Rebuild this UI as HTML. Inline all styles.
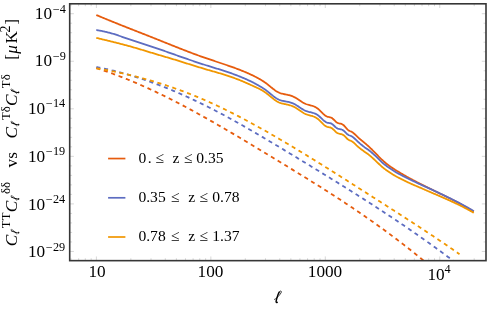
<!DOCTYPE html>
<html><head><meta charset="utf-8"><title>plot</title>
<style>
html,body{margin:0;padding:0;background:#fff;}
body{width:491px;height:309px;overflow:hidden;font-family:"Liberation Serif",serif;}
svg{display:block;will-change:transform;}
text{font-family:"Liberation Serif",serif;fill:#000;}
</style></head><body>
<svg width="491" height="309" viewBox="0 0 491 309">
<rect width="491" height="309" fill="#fff"/>
<defs><g id="ell" fill="none" stroke="#000" stroke-linecap="round" stroke-linejoin="round"><path d="M0.3,-3.6 C1.8,-4.3 3.6,-5.8 5.0,-7.6 C6.4,-9.4 7.5,-10.8 7.1,-11.6 C6.7,-12.3 5.8,-12.0 5.0,-10.9" stroke-width="0.75"/><path d="M5.0,-10.9 C4.1,-9.5 3.2,-6.8 2.6,-4.6 C2.1,-2.9 1.7,-1.6 1.9,-0.9 C2.1,-0.4 2.5,-0.4 3.0,-0.7" stroke-width="1.45"/></g><clipPath id="c"><rect x="69.7" y="3.8" width="416.3" height="256.84999999999997"/></clipPath></defs>
<g stroke="#b0b0b0" stroke-width="0.5"><line x1="71.01" y1="260.65" x2="71.01" y2="258.25"/><line x1="71.01" y1="3.80" x2="71.01" y2="6.20"/><line x1="78.67" y1="260.65" x2="78.67" y2="258.25"/><line x1="78.67" y1="3.80" x2="78.67" y2="6.20"/><line x1="85.31" y1="260.65" x2="85.31" y2="258.25"/><line x1="85.31" y1="3.80" x2="85.31" y2="6.20"/><line x1="91.16" y1="260.65" x2="91.16" y2="258.25"/><line x1="91.16" y1="3.80" x2="91.16" y2="6.20"/><line x1="96.40" y1="260.65" x2="96.40" y2="256.45"/><line x1="96.40" y1="3.80" x2="96.40" y2="8.00"/><line x1="130.85" y1="260.65" x2="130.85" y2="258.25"/><line x1="130.85" y1="3.80" x2="130.85" y2="6.20"/><line x1="151.01" y1="260.65" x2="151.01" y2="258.25"/><line x1="151.01" y1="3.80" x2="151.01" y2="6.20"/><line x1="165.31" y1="260.65" x2="165.31" y2="258.25"/><line x1="165.31" y1="3.80" x2="165.31" y2="6.20"/><line x1="176.40" y1="260.65" x2="176.40" y2="258.25"/><line x1="176.40" y1="3.80" x2="176.40" y2="6.20"/><line x1="185.46" y1="260.65" x2="185.46" y2="258.25"/><line x1="185.46" y1="3.80" x2="185.46" y2="6.20"/><line x1="193.12" y1="260.65" x2="193.12" y2="258.25"/><line x1="193.12" y1="3.80" x2="193.12" y2="6.20"/><line x1="199.76" y1="260.65" x2="199.76" y2="258.25"/><line x1="199.76" y1="3.80" x2="199.76" y2="6.20"/><line x1="205.61" y1="260.65" x2="205.61" y2="258.25"/><line x1="205.61" y1="3.80" x2="205.61" y2="6.20"/><line x1="210.85" y1="260.65" x2="210.85" y2="256.45"/><line x1="210.85" y1="3.80" x2="210.85" y2="8.00"/><line x1="245.30" y1="260.65" x2="245.30" y2="258.25"/><line x1="245.30" y1="3.80" x2="245.30" y2="6.20"/><line x1="265.46" y1="260.65" x2="265.46" y2="258.25"/><line x1="265.46" y1="3.80" x2="265.46" y2="6.20"/><line x1="279.76" y1="260.65" x2="279.76" y2="258.25"/><line x1="279.76" y1="3.80" x2="279.76" y2="6.20"/><line x1="290.85" y1="260.65" x2="290.85" y2="258.25"/><line x1="290.85" y1="3.80" x2="290.85" y2="6.20"/><line x1="299.91" y1="260.65" x2="299.91" y2="258.25"/><line x1="299.91" y1="3.80" x2="299.91" y2="6.20"/><line x1="307.57" y1="260.65" x2="307.57" y2="258.25"/><line x1="307.57" y1="3.80" x2="307.57" y2="6.20"/><line x1="314.21" y1="260.65" x2="314.21" y2="258.25"/><line x1="314.21" y1="3.80" x2="314.21" y2="6.20"/><line x1="320.06" y1="260.65" x2="320.06" y2="258.25"/><line x1="320.06" y1="3.80" x2="320.06" y2="6.20"/><line x1="325.30" y1="260.65" x2="325.30" y2="256.45"/><line x1="325.30" y1="3.80" x2="325.30" y2="8.00"/><line x1="359.75" y1="260.65" x2="359.75" y2="258.25"/><line x1="359.75" y1="3.80" x2="359.75" y2="6.20"/><line x1="379.91" y1="260.65" x2="379.91" y2="258.25"/><line x1="379.91" y1="3.80" x2="379.91" y2="6.20"/><line x1="394.21" y1="260.65" x2="394.21" y2="258.25"/><line x1="394.21" y1="3.80" x2="394.21" y2="6.20"/><line x1="405.30" y1="260.65" x2="405.30" y2="258.25"/><line x1="405.30" y1="3.80" x2="405.30" y2="6.20"/><line x1="414.36" y1="260.65" x2="414.36" y2="258.25"/><line x1="414.36" y1="3.80" x2="414.36" y2="6.20"/><line x1="422.02" y1="260.65" x2="422.02" y2="258.25"/><line x1="422.02" y1="3.80" x2="422.02" y2="6.20"/><line x1="428.66" y1="260.65" x2="428.66" y2="258.25"/><line x1="428.66" y1="3.80" x2="428.66" y2="6.20"/><line x1="434.51" y1="260.65" x2="434.51" y2="258.25"/><line x1="434.51" y1="3.80" x2="434.51" y2="6.20"/><line x1="439.75" y1="260.65" x2="439.75" y2="256.45"/><line x1="439.75" y1="3.80" x2="439.75" y2="8.00"/><line x1="474.20" y1="260.65" x2="474.20" y2="258.25"/><line x1="474.20" y1="3.80" x2="474.20" y2="6.20"/><line x1="69.70" y1="13.70" x2="73.90" y2="13.70"/><line x1="486.00" y1="13.70" x2="481.80" y2="13.70"/><line x1="69.70" y1="23.21" x2="72.10" y2="23.21"/><line x1="486.00" y1="23.21" x2="483.60" y2="23.21"/><line x1="69.70" y1="32.72" x2="72.10" y2="32.72"/><line x1="486.00" y1="32.72" x2="483.60" y2="32.72"/><line x1="69.70" y1="42.23" x2="72.10" y2="42.23"/><line x1="486.00" y1="42.23" x2="483.60" y2="42.23"/><line x1="69.70" y1="51.74" x2="72.10" y2="51.74"/><line x1="486.00" y1="51.74" x2="483.60" y2="51.74"/><line x1="69.70" y1="61.25" x2="73.90" y2="61.25"/><line x1="486.00" y1="61.25" x2="481.80" y2="61.25"/><line x1="69.70" y1="70.76" x2="72.10" y2="70.76"/><line x1="486.00" y1="70.76" x2="483.60" y2="70.76"/><line x1="69.70" y1="80.27" x2="72.10" y2="80.27"/><line x1="486.00" y1="80.27" x2="483.60" y2="80.27"/><line x1="69.70" y1="89.78" x2="72.10" y2="89.78"/><line x1="486.00" y1="89.78" x2="483.60" y2="89.78"/><line x1="69.70" y1="99.29" x2="72.10" y2="99.29"/><line x1="486.00" y1="99.29" x2="483.60" y2="99.29"/><line x1="69.70" y1="108.80" x2="73.90" y2="108.80"/><line x1="486.00" y1="108.80" x2="481.80" y2="108.80"/><line x1="69.70" y1="118.31" x2="72.10" y2="118.31"/><line x1="486.00" y1="118.31" x2="483.60" y2="118.31"/><line x1="69.70" y1="127.82" x2="72.10" y2="127.82"/><line x1="486.00" y1="127.82" x2="483.60" y2="127.82"/><line x1="69.70" y1="137.33" x2="72.10" y2="137.33"/><line x1="486.00" y1="137.33" x2="483.60" y2="137.33"/><line x1="69.70" y1="146.84" x2="72.10" y2="146.84"/><line x1="486.00" y1="146.84" x2="483.60" y2="146.84"/><line x1="69.70" y1="156.35" x2="73.90" y2="156.35"/><line x1="486.00" y1="156.35" x2="481.80" y2="156.35"/><line x1="69.70" y1="165.86" x2="72.10" y2="165.86"/><line x1="486.00" y1="165.86" x2="483.60" y2="165.86"/><line x1="69.70" y1="175.37" x2="72.10" y2="175.37"/><line x1="486.00" y1="175.37" x2="483.60" y2="175.37"/><line x1="69.70" y1="184.88" x2="72.10" y2="184.88"/><line x1="486.00" y1="184.88" x2="483.60" y2="184.88"/><line x1="69.70" y1="194.39" x2="72.10" y2="194.39"/><line x1="486.00" y1="194.39" x2="483.60" y2="194.39"/><line x1="69.70" y1="203.90" x2="73.90" y2="203.90"/><line x1="486.00" y1="203.90" x2="481.80" y2="203.90"/><line x1="69.70" y1="213.41" x2="72.10" y2="213.41"/><line x1="486.00" y1="213.41" x2="483.60" y2="213.41"/><line x1="69.70" y1="222.92" x2="72.10" y2="222.92"/><line x1="486.00" y1="222.92" x2="483.60" y2="222.92"/><line x1="69.70" y1="232.43" x2="72.10" y2="232.43"/><line x1="486.00" y1="232.43" x2="483.60" y2="232.43"/><line x1="69.70" y1="241.94" x2="72.10" y2="241.94"/><line x1="486.00" y1="241.94" x2="483.60" y2="241.94"/><line x1="69.70" y1="251.45" x2="73.90" y2="251.45"/><line x1="486.00" y1="251.45" x2="481.80" y2="251.45"/></g>
<g clip-path="url(#c)">
<path d="M96.30,14.98 L97.06,15.31 L97.81,15.63 L98.57,15.95 L99.33,16.26 L100.08,16.58 L100.84,16.90 L101.60,17.22 L102.35,17.53 L103.11,17.85 L103.87,18.16 L104.62,18.47 L105.38,18.78 L106.13,19.10 L106.89,19.41 L107.65,19.72 L108.40,20.03 L109.16,20.34 L109.92,20.64 L110.67,20.95 L111.43,21.26 L112.19,21.57 L112.94,21.87 L113.70,22.18 L114.46,22.48 L115.21,22.79 L115.97,23.09 L116.73,23.39 L117.48,23.70 L118.24,24.00 L119.00,24.30 L119.75,24.60 L120.51,24.90 L121.26,25.21 L122.02,25.51 L122.78,25.81 L123.53,26.11 L124.29,26.41 L125.05,26.70 L125.80,27.00 L126.56,27.30 L127.32,27.60 L128.07,27.90 L128.83,28.20 L129.59,28.50 L130.34,28.79 L131.10,29.09 L131.86,29.39 L132.61,29.69 L133.37,29.98 L134.13,30.28 L134.88,30.58 L135.64,30.87 L136.40,31.17 L137.15,31.47 L137.91,31.76 L138.66,32.06 L139.42,32.36 L140.18,32.65 L140.93,32.95 L141.69,33.25 L142.45,33.55 L143.20,33.84 L143.96,34.14 L144.72,34.44 L145.47,34.74 L146.23,35.03 L146.99,35.33 L147.74,35.63 L148.50,35.93 L149.26,36.23 L150.01,36.53 L150.77,36.82 L151.53,37.12 L152.28,37.42 L153.04,37.72 L153.79,38.02 L154.55,38.33 L155.31,38.63 L156.06,38.93 L156.82,39.23 L157.58,39.53 L158.33,39.83 L159.09,40.14 L159.85,40.44 L160.60,40.74 L161.36,41.05 L162.12,41.35 L162.87,41.65 L163.63,41.96 L164.39,42.26 L165.14,42.56 L165.90,42.87 L166.66,43.17 L167.41,43.48 L168.17,43.78 L168.93,44.08 L169.68,44.39 L170.44,44.69 L171.19,44.99 L171.95,45.29 L172.71,45.60 L173.46,45.90 L174.22,46.20 L174.98,46.50 L175.73,46.80 L176.49,47.10 L177.25,47.40 L178.00,47.70 L178.76,48.00 L179.52,48.30 L180.27,48.60 L181.03,48.89 L181.79,49.19 L182.54,49.49 L183.30,49.78 L184.06,50.08 L184.81,50.37 L185.57,50.66 L186.33,50.95 L187.08,51.25 L187.84,51.54 L188.59,51.83 L189.35,52.11 L190.11,52.40 L190.86,52.69 L191.62,52.97 L192.38,53.26 L193.13,53.54 L193.89,53.83 L194.65,54.11 L195.40,54.39 L196.16,54.67 L196.92,54.94 L197.67,55.22 L198.43,55.50 L199.19,55.77 L199.94,56.04 L200.70,56.31 L201.46,56.58 L202.21,56.85 L202.97,57.12 L203.72,57.39 L204.48,57.65 L205.24,57.91 L205.99,58.17 L206.75,58.43 L207.51,58.69 L208.26,58.95 L209.02,59.21 L209.78,59.46 L210.53,59.71 L211.29,59.97 L212.05,60.22 L212.80,60.47 L213.56,60.72 L214.32,60.97 L215.07,61.23 L215.83,61.48 L216.59,61.73 L217.34,61.98 L218.10,62.23 L218.86,62.48 L219.61,62.73 L220.37,62.98 L221.12,63.23 L221.88,63.48 L222.64,63.74 L223.39,63.99 L224.15,64.24 L224.91,64.50 L225.66,64.76 L226.42,65.01 L227.18,65.27 L227.93,65.53 L228.69,65.79 L229.45,66.06 L230.20,66.32 L230.96,66.59 L231.72,66.86 L232.47,67.13 L233.23,67.40 L233.99,67.67 L234.74,67.95 L235.50,68.23 L236.25,68.51 L237.01,68.79 L237.77,69.08 L238.52,69.37 L239.28,69.66 L240.04,69.96 L240.79,70.25 L241.55,70.56 L242.31,70.86 L243.06,71.17 L243.82,71.48 L244.58,71.79 L245.33,72.11 L246.09,72.44 L246.85,72.76 L247.60,73.10 L248.36,73.43 L249.12,73.77 L249.87,74.12 L250.63,74.47 L251.39,74.82 L252.14,75.18 L252.90,75.55 L253.65,75.92 L254.41,76.30 L255.17,76.68 L255.92,77.07 L256.68,77.46 L257.44,77.86 L258.19,78.27 L258.95,78.69 L259.71,79.11 L260.46,79.53 L261.22,79.97 L261.98,80.42 L262.73,80.89 L263.49,81.38 L264.25,81.88 L265.00,82.40 L265.76,82.95 L266.52,83.53 L267.27,84.12 L268.03,84.72 L268.78,85.34 L269.54,85.96 L270.30,86.58 L271.05,87.21 L271.81,87.82 L272.57,88.43 L273.32,89.02 L274.08,89.59 L274.84,90.15 L275.59,90.67 L276.35,91.16 L277.11,91.62 L277.86,92.04 L278.62,92.42 L279.38,92.75 L280.13,93.05 L280.89,93.31 L281.65,93.53 L282.40,93.74 L283.16,93.92 L283.92,94.09 L284.67,94.25 L285.43,94.40 L286.18,94.54 L286.94,94.69 L287.70,94.85 L288.45,95.02 L289.21,95.20 L289.97,95.41 L290.72,95.64 L291.48,95.90 L292.24,96.19 L292.99,96.51 L293.75,96.86 L294.51,97.24 L295.26,97.65 L296.02,98.07 L296.78,98.52 L297.53,98.99 L298.29,99.48 L299.05,99.98 L299.80,100.49 L300.56,101.00 L301.32,101.50 L302.07,101.99 L302.83,102.46 L303.58,102.90 L304.34,103.31 L305.10,103.67 L305.85,103.98 L306.61,104.26 L307.37,104.50 L308.12,104.73 L308.88,104.93 L309.64,105.13 L310.39,105.32 L311.15,105.52 L311.91,105.74 L312.66,105.97 L313.42,106.23 L314.18,106.52 L314.93,106.86 L315.69,107.24 L316.45,107.68 L317.20,108.18 L317.96,108.76 L318.71,109.40 L319.47,110.10 L320.23,110.84 L320.98,111.60 L321.74,112.37 L322.50,113.13 L323.25,113.86 L324.01,114.55 L324.77,115.18 L325.52,115.73 L326.28,116.19 L327.04,116.54 L327.79,116.78 L328.55,116.95 L329.31,117.10 L330.06,117.27 L330.82,117.50 L331.58,117.86 L332.33,118.36 L333.09,119.00 L333.85,119.73 L334.60,120.49 L335.36,121.23 L336.11,121.90 L336.87,122.45 L337.63,122.85 L338.38,123.13 L339.14,123.35 L339.90,123.53 L340.65,123.72 L341.41,123.95 L342.17,124.27 L342.92,124.70 L343.68,125.27 L344.44,126.00 L345.19,126.85 L345.95,127.76 L346.71,128.64 L347.46,129.44 L348.22,130.12 L348.98,130.64 L349.73,131.00 L350.49,131.27 L351.24,131.57 L352.00,131.97 L352.76,132.49 L353.51,133.09 L354.27,133.77 L355.03,134.48 L355.78,135.22 L356.54,135.96 L357.30,136.67 L358.05,137.37 L358.81,138.05 L359.57,138.71 L360.32,139.36 L361.08,140.00 L361.84,140.64 L362.59,141.26 L363.35,141.89 L364.11,142.51 L364.86,143.14 L365.62,143.77 L366.38,144.41 L367.13,145.06 L367.89,145.72 L368.64,146.39 L369.40,147.08 L370.16,147.79 L370.91,148.52 L371.67,149.26 L372.43,150.02 L373.18,150.79 L373.94,151.56 L374.70,152.35 L375.45,153.13 L376.21,153.92 L376.97,154.71 L377.72,155.49 L378.48,156.27 L379.24,157.04 L379.99,157.81 L380.75,158.56 L381.51,159.29 L382.26,160.01 L383.02,160.71 L383.77,161.39 L384.53,162.05 L385.29,162.70 L386.04,163.32 L386.80,163.92 L387.56,164.51 L388.31,165.09 L389.07,165.65 L389.83,166.19 L390.58,166.73 L391.34,167.25 L392.10,167.77 L392.85,168.27 L393.61,168.76 L394.37,169.25 L395.12,169.74 L395.88,170.21 L396.64,170.68 L397.39,171.15 L398.15,171.62 L398.91,172.08 L399.66,172.54 L400.42,172.99 L401.17,173.44 L401.93,173.89 L402.69,174.33 L403.44,174.77 L404.20,175.21 L404.96,175.64 L405.71,176.07 L406.47,176.50 L407.23,176.92 L407.98,177.34 L408.74,177.76 L409.50,178.18 L410.25,178.59 L411.01,179.00 L411.77,179.41 L412.52,179.81 L413.28,180.22 L414.04,180.62 L414.79,181.02 L415.55,181.41 L416.31,181.81 L417.06,182.20 L417.82,182.59 L418.57,182.98 L419.33,183.37 L420.09,183.76 L420.84,184.14 L421.60,184.52 L422.36,184.90 L423.11,185.28 L423.87,185.66 L424.63,186.04 L425.38,186.42 L426.14,186.79 L426.90,187.16 L427.65,187.54 L428.41,187.91 L429.17,188.28 L429.92,188.65 L430.68,189.02 L431.44,189.39 L432.19,189.76 L432.95,190.13 L433.70,190.50 L434.46,190.87 L435.22,191.24 L435.97,191.61 L436.73,191.97 L437.49,192.34 L438.24,192.71 L439.00,193.08 L439.76,193.45 L440.51,193.82 L441.27,194.19 L442.03,194.56 L442.78,194.93 L443.54,195.30 L444.30,195.67 L445.05,196.05 L445.81,196.42 L446.57,196.80 L447.32,197.17 L448.08,197.55 L448.84,197.93 L449.59,198.31 L450.35,198.69 L451.10,199.07 L451.86,199.46 L452.62,199.84 L453.37,200.23 L454.13,200.62 L454.89,201.01 L455.64,201.40 L456.40,201.80 L457.16,202.20 L457.91,202.60 L458.67,203.00 L459.43,203.40 L460.18,203.81 L460.94,204.22 L461.70,204.63 L462.45,205.04 L463.21,205.46 L463.97,205.88 L464.72,206.30 L465.48,206.72 L466.23,207.15 L466.99,207.58 L467.75,208.01 L468.50,208.45 L469.26,208.89 L470.02,209.34 L470.77,209.78 L471.53,210.23 L472.29,210.69 L473.04,211.15 L473.80,211.61" fill="none" stroke="#E65C0E" stroke-width="1.8" stroke-linejoin="round"/>
<path d="M96.30,29.98 L97.06,30.12 L97.81,30.26 L98.57,30.40 L99.33,30.54 L100.08,30.69 L100.84,30.83 L101.60,30.98 L102.35,31.14 L103.11,31.30 L103.87,31.46 L104.62,31.62 L105.38,31.79 L106.13,31.96 L106.89,32.14 L107.65,32.32 L108.40,32.51 L109.16,32.70 L109.92,32.90 L110.67,33.11 L111.43,33.31 L112.19,33.53 L112.94,33.75 L113.70,33.98 L114.46,34.22 L115.21,34.46 L115.97,34.71 L116.73,34.96 L117.48,35.21 L118.24,35.47 L119.00,35.73 L119.75,35.99 L120.51,36.25 L121.26,36.52 L122.02,36.79 L122.78,37.05 L123.53,37.32 L124.29,37.58 L125.05,37.85 L125.80,38.12 L126.56,38.38 L127.32,38.64 L128.07,38.90 L128.83,39.16 L129.59,39.42 L130.34,39.67 L131.10,39.92 L131.86,40.17 L132.61,40.42 L133.37,40.67 L134.13,40.92 L134.88,41.16 L135.64,41.41 L136.40,41.65 L137.15,41.90 L137.91,42.14 L138.66,42.38 L139.42,42.62 L140.18,42.87 L140.93,43.11 L141.69,43.35 L142.45,43.59 L143.20,43.83 L143.96,44.08 L144.72,44.32 L145.47,44.56 L146.23,44.80 L146.99,45.05 L147.74,45.29 L148.50,45.54 L149.26,45.79 L150.01,46.03 L150.77,46.28 L151.53,46.53 L152.28,46.79 L153.04,47.04 L153.79,47.29 L154.55,47.55 L155.31,47.81 L156.06,48.07 L156.82,48.33 L157.58,48.59 L158.33,48.85 L159.09,49.11 L159.85,49.38 L160.60,49.64 L161.36,49.90 L162.12,50.17 L162.87,50.43 L163.63,50.70 L164.39,50.97 L165.14,51.23 L165.90,51.50 L166.66,51.77 L167.41,52.03 L168.17,52.30 L168.93,52.57 L169.68,52.84 L170.44,53.10 L171.19,53.37 L171.95,53.64 L172.71,53.91 L173.46,54.18 L174.22,54.44 L174.98,54.71 L175.73,54.98 L176.49,55.25 L177.25,55.52 L178.00,55.78 L178.76,56.05 L179.52,56.32 L180.27,56.58 L181.03,56.85 L181.79,57.12 L182.54,57.38 L183.30,57.65 L184.06,57.91 L184.81,58.17 L185.57,58.43 L186.33,58.70 L187.08,58.96 L187.84,59.22 L188.59,59.48 L189.35,59.74 L190.11,59.99 L190.86,60.25 L191.62,60.51 L192.38,60.77 L193.13,61.02 L193.89,61.28 L194.65,61.53 L195.40,61.78 L196.16,62.04 L196.92,62.29 L197.67,62.54 L198.43,62.79 L199.19,63.04 L199.94,63.29 L200.70,63.54 L201.46,63.78 L202.21,64.03 L202.97,64.27 L203.72,64.52 L204.48,64.76 L205.24,65.01 L205.99,65.25 L206.75,65.49 L207.51,65.73 L208.26,65.96 L209.02,66.20 L209.78,66.43 L210.53,66.67 L211.29,66.90 L212.05,67.13 L212.80,67.36 L213.56,67.59 L214.32,67.82 L215.07,68.06 L215.83,68.29 L216.59,68.52 L217.34,68.75 L218.10,68.98 L218.86,69.22 L219.61,69.45 L220.37,69.69 L221.12,69.92 L221.88,70.16 L222.64,70.40 L223.39,70.64 L224.15,70.89 L224.91,71.13 L225.66,71.38 L226.42,71.63 L227.18,71.88 L227.93,72.14 L228.69,72.40 L229.45,72.66 L230.20,72.92 L230.96,73.19 L231.72,73.46 L232.47,73.73 L233.23,74.01 L233.99,74.28 L234.74,74.57 L235.50,74.85 L236.25,75.14 L237.01,75.43 L237.77,75.72 L238.52,76.02 L239.28,76.32 L240.04,76.62 L240.79,76.93 L241.55,77.24 L242.31,77.55 L243.06,77.87 L243.82,78.19 L244.58,78.52 L245.33,78.85 L246.09,79.18 L246.85,79.52 L247.60,79.86 L248.36,80.21 L249.12,80.56 L249.87,80.92 L250.63,81.28 L251.39,81.65 L252.14,82.03 L252.90,82.42 L253.65,82.81 L254.41,83.22 L255.17,83.62 L255.92,84.04 L256.68,84.46 L257.44,84.88 L258.19,85.31 L258.95,85.75 L259.71,86.18 L260.46,86.62 L261.22,87.07 L261.98,87.52 L262.73,87.99 L263.49,88.48 L264.25,88.98 L265.00,89.50 L265.76,90.05 L266.52,90.63 L267.27,91.22 L268.03,91.82 L268.78,92.44 L269.54,93.06 L270.30,93.68 L271.05,94.31 L271.81,94.92 L272.57,95.53 L273.32,96.12 L274.08,96.69 L274.84,97.25 L275.59,97.77 L276.35,98.26 L277.11,98.72 L277.86,99.13 L278.62,99.50 L279.38,99.83 L280.13,100.11 L280.89,100.36 L281.65,100.58 L282.40,100.78 L283.16,100.95 L283.92,101.11 L284.67,101.25 L285.43,101.39 L286.18,101.53 L286.94,101.67 L287.70,101.81 L288.45,101.97 L289.21,102.14 L289.97,102.34 L290.72,102.56 L291.48,102.81 L292.24,103.10 L292.99,103.42 L293.75,103.76 L294.51,104.14 L295.26,104.55 L296.02,104.97 L296.78,105.42 L297.53,105.89 L298.29,106.38 L299.05,106.88 L299.80,107.39 L300.56,107.90 L301.32,108.40 L302.07,108.89 L302.83,109.36 L303.58,109.80 L304.34,110.21 L305.10,110.57 L305.85,110.88 L306.61,111.16 L307.37,111.40 L308.12,111.63 L308.88,111.83 L309.64,112.01 L310.39,112.19 L311.15,112.37 L311.91,112.56 L312.66,112.76 L313.42,112.99 L314.18,113.24 L314.93,113.54 L315.69,113.88 L316.45,114.28 L317.20,114.74 L317.96,115.27 L318.71,115.87 L319.47,116.53 L320.23,117.23 L320.98,117.95 L321.74,118.68 L322.50,119.41 L323.25,120.10 L324.01,120.75 L324.77,121.34 L325.52,121.85 L326.28,122.27 L327.04,122.58 L327.79,122.78 L328.55,122.91 L329.31,123.03 L330.06,123.16 L330.82,123.38 L331.58,123.70 L332.33,124.19 L333.09,124.81 L333.85,125.51 L334.60,126.25 L335.36,126.98 L336.11,127.63 L336.87,128.15 L337.63,128.53 L338.38,128.80 L339.14,128.98 L339.90,129.13 L340.65,129.29 L341.41,129.49 L342.17,129.76 L342.92,130.15 L343.68,130.67 L344.44,131.34 L345.19,132.13 L345.95,132.96 L346.71,133.74 L347.46,134.37 L348.22,134.87 L348.98,135.24 L349.73,135.51 L350.49,135.77 L351.24,136.07 L352.00,136.47 L352.76,136.99 L353.51,137.59 L354.27,138.27 L355.03,138.98 L355.78,139.72 L356.54,140.46 L357.30,141.17 L358.05,141.86 L358.81,142.53 L359.57,143.19 L360.32,143.83 L361.08,144.45 L361.84,145.07 L362.59,145.68 L363.35,146.28 L364.11,146.85 L364.86,147.40 L365.62,147.93 L366.38,148.46 L367.13,148.99 L367.89,149.53 L368.64,150.08 L369.40,150.66 L370.16,151.27 L370.91,151.90 L371.67,152.55 L372.43,153.20 L373.18,153.87 L373.94,154.55 L374.70,155.25 L375.45,155.97 L376.21,156.71 L376.97,157.45 L377.72,158.20 L378.48,158.95 L379.24,159.69 L379.99,160.43 L380.75,161.15 L381.51,161.86 L382.26,162.55 L383.02,163.21 L383.77,163.85 L384.53,164.46 L385.29,165.05 L386.04,165.61 L386.80,166.16 L387.56,166.70 L388.31,167.23 L389.07,167.76 L389.83,168.29 L390.58,168.81 L391.34,169.32 L392.10,169.82 L392.85,170.32 L393.61,170.81 L394.37,171.28 L395.12,171.75 L395.88,172.22 L396.64,172.66 L397.39,173.09 L398.15,173.50 L398.91,173.89 L399.66,174.28 L400.42,174.67 L401.17,175.06 L401.93,175.46 L402.69,175.85 L403.44,176.24 L404.20,176.63 L404.96,177.02 L405.71,177.41 L406.47,177.79 L407.23,178.17 L407.98,178.54 L408.74,178.91 L409.50,179.28 L410.25,179.65 L411.01,180.01 L411.77,180.37 L412.52,180.73 L413.28,181.09 L414.04,181.44 L414.79,181.80 L415.55,182.16 L416.31,182.52 L417.06,182.88 L417.82,183.23 L418.57,183.59 L419.33,183.94 L420.09,184.30 L420.84,184.65 L421.60,184.99 L422.36,185.34 L423.11,185.68 L423.87,186.03 L424.63,186.37 L425.38,186.71 L426.14,187.05 L426.90,187.39 L427.65,187.74 L428.41,188.08 L429.17,188.41 L429.92,188.75 L430.68,189.09 L431.44,189.43 L432.19,189.78 L432.95,190.13 L433.70,190.49 L434.46,190.84 L435.22,191.20 L435.97,191.55 L436.73,191.91 L437.49,192.26 L438.24,192.62 L439.00,192.98 L439.76,193.33 L440.51,193.69 L441.27,194.05 L442.03,194.41 L442.78,194.77 L443.54,195.13 L444.30,195.49 L445.05,195.85 L445.81,196.22 L446.57,196.58 L447.32,196.95 L448.08,197.32 L448.84,197.69 L449.59,198.06 L450.35,198.43 L451.10,198.80 L451.86,199.18 L452.62,199.56 L453.37,199.94 L454.13,200.32 L454.89,200.70 L455.64,201.09 L456.40,201.48 L457.16,201.87 L457.91,202.26 L458.67,202.66 L459.43,203.06 L460.18,203.46 L460.94,203.86 L461.70,204.27 L462.45,204.67 L463.21,205.09 L463.97,205.50 L464.72,205.92 L465.48,206.34 L466.23,206.77 L466.99,207.19 L467.75,207.62 L468.50,208.06 L469.26,208.50 L470.02,208.94 L470.77,209.39 L471.53,209.83 L472.29,210.29 L473.04,210.75 L473.80,211.21" fill="none" stroke="#5D6DC1" stroke-width="1.8" stroke-linejoin="round"/>
<path d="M96.30,37.88 L97.06,38.06 L97.81,38.24 L98.57,38.42 L99.33,38.60 L100.08,38.78 L100.84,38.97 L101.60,39.15 L102.35,39.33 L103.11,39.51 L103.87,39.69 L104.62,39.87 L105.38,40.05 L106.13,40.24 L106.89,40.42 L107.65,40.60 L108.40,40.79 L109.16,40.97 L109.92,41.16 L110.67,41.34 L111.43,41.53 L112.19,41.72 L112.94,41.91 L113.70,42.09 L114.46,42.28 L115.21,42.47 L115.97,42.66 L116.73,42.85 L117.48,43.05 L118.24,43.24 L119.00,43.43 L119.75,43.63 L120.51,43.82 L121.26,44.02 L122.02,44.22 L122.78,44.41 L123.53,44.61 L124.29,44.81 L125.05,45.01 L125.80,45.22 L126.56,45.42 L127.32,45.62 L128.07,45.83 L128.83,46.04 L129.59,46.24 L130.34,46.45 L131.10,46.66 L131.86,46.88 L132.61,47.09 L133.37,47.31 L134.13,47.52 L134.88,47.74 L135.64,47.96 L136.40,48.18 L137.15,48.41 L137.91,48.63 L138.66,48.86 L139.42,49.08 L140.18,49.31 L140.93,49.53 L141.69,49.76 L142.45,49.99 L143.20,50.22 L143.96,50.45 L144.72,50.68 L145.47,50.91 L146.23,51.14 L146.99,51.37 L147.74,51.60 L148.50,51.83 L149.26,52.06 L150.01,52.29 L150.77,52.52 L151.53,52.75 L152.28,52.98 L153.04,53.21 L153.79,53.44 L154.55,53.67 L155.31,53.90 L156.06,54.12 L156.82,54.35 L157.58,54.57 L158.33,54.80 L159.09,55.02 L159.85,55.25 L160.60,55.47 L161.36,55.69 L162.12,55.91 L162.87,56.14 L163.63,56.36 L164.39,56.58 L165.14,56.80 L165.90,57.03 L166.66,57.25 L167.41,57.47 L168.17,57.70 L168.93,57.92 L169.68,58.14 L170.44,58.37 L171.19,58.59 L171.95,58.82 L172.71,59.05 L173.46,59.28 L174.22,59.50 L174.98,59.73 L175.73,59.96 L176.49,60.20 L177.25,60.43 L178.00,60.66 L178.76,60.90 L179.52,61.14 L180.27,61.37 L181.03,61.61 L181.79,61.85 L182.54,62.09 L183.30,62.33 L184.06,62.57 L184.81,62.80 L185.57,63.04 L186.33,63.28 L187.08,63.52 L187.84,63.75 L188.59,63.99 L189.35,64.23 L190.11,64.46 L190.86,64.70 L191.62,64.93 L192.38,65.17 L193.13,65.40 L193.89,65.64 L194.65,65.87 L195.40,66.10 L196.16,66.34 L196.92,66.57 L197.67,66.80 L198.43,67.03 L199.19,67.27 L199.94,67.50 L200.70,67.73 L201.46,67.96 L202.21,68.19 L202.97,68.42 L203.72,68.65 L204.48,68.87 L205.24,69.10 L205.99,69.33 L206.75,69.55 L207.51,69.77 L208.26,69.99 L209.02,70.21 L209.78,70.43 L210.53,70.65 L211.29,70.86 L212.05,71.08 L212.80,71.29 L213.56,71.51 L214.32,71.72 L215.07,71.94 L215.83,72.16 L216.59,72.37 L217.34,72.59 L218.10,72.81 L218.86,73.03 L219.61,73.25 L220.37,73.47 L221.12,73.70 L221.88,73.92 L222.64,74.15 L223.39,74.39 L224.15,74.62 L224.91,74.86 L225.66,75.10 L226.42,75.34 L227.18,75.59 L227.93,75.84 L228.69,76.10 L229.45,76.36 L230.20,76.62 L230.96,76.89 L231.72,77.16 L232.47,77.43 L233.23,77.70 L233.99,77.97 L234.74,78.25 L235.50,78.53 L236.25,78.81 L237.01,79.09 L237.77,79.38 L238.52,79.67 L239.28,79.96 L240.04,80.26 L240.79,80.56 L241.55,80.86 L242.31,81.17 L243.06,81.49 L243.82,81.81 L244.58,82.14 L245.33,82.47 L246.09,82.80 L246.85,83.14 L247.60,83.48 L248.36,83.82 L249.12,84.17 L249.87,84.52 L250.63,84.86 L251.39,85.21 L252.14,85.55 L252.90,85.88 L253.65,86.22 L254.41,86.56 L255.17,86.90 L255.92,87.24 L256.68,87.59 L257.44,87.95 L258.19,88.31 L258.95,88.69 L259.71,89.07 L260.46,89.47 L261.22,89.89 L261.98,90.33 L262.73,90.78 L263.49,91.26 L264.25,91.75 L265.00,92.27 L265.76,92.81 L266.52,93.37 L267.27,93.96 L268.03,94.55 L268.78,95.16 L269.54,95.78 L270.30,96.40 L271.05,97.02 L271.81,97.63 L272.57,98.23 L273.32,98.82 L274.08,99.40 L274.84,99.95 L275.59,100.47 L276.35,100.96 L277.11,101.42 L277.86,101.84 L278.62,102.22 L279.38,102.56 L280.13,102.85 L280.89,103.12 L281.65,103.35 L282.40,103.56 L283.16,103.74 L283.92,103.91 L284.67,104.07 L285.43,104.23 L286.18,104.38 L286.94,104.53 L287.70,104.69 L288.45,104.87 L289.21,105.06 L289.97,105.27 L290.72,105.50 L291.48,105.77 L292.24,106.06 L292.99,106.39 L293.75,106.75 L294.51,107.14 L295.26,107.55 L296.02,107.98 L296.78,108.45 L297.53,108.93 L298.29,109.43 L299.05,109.95 L299.80,110.48 L300.56,111.02 L301.32,111.54 L302.07,112.06 L302.83,112.55 L303.58,113.01 L304.34,113.43 L305.10,113.81 L305.85,114.15 L306.61,114.44 L307.37,114.70 L308.12,114.93 L308.88,115.14 L309.64,115.35 L310.39,115.55 L311.15,115.76 L311.91,115.98 L312.66,116.22 L313.42,116.48 L314.18,116.78 L314.93,117.12 L315.69,117.51 L316.45,117.96 L317.20,118.47 L317.96,119.04 L318.71,119.69 L319.47,120.40 L320.23,121.14 L320.98,121.90 L321.74,122.67 L322.50,123.43 L323.25,124.16 L324.01,124.83 L324.77,125.45 L325.52,125.99 L326.28,126.43 L327.04,126.77 L327.79,127.00 L328.55,127.16 L329.31,127.30 L330.06,127.47 L330.82,127.71 L331.58,128.06 L332.33,128.58 L333.09,129.23 L333.85,129.96 L334.60,130.73 L335.36,131.48 L336.11,132.16 L336.87,132.72 L337.63,133.13 L338.38,133.43 L339.14,133.65 L339.90,133.83 L340.65,134.01 L341.41,134.20 L342.17,134.46 L342.92,134.82 L343.68,135.30 L344.44,135.93 L345.19,136.68 L345.95,137.48 L346.71,138.27 L347.46,138.99 L348.22,139.60 L348.98,140.07 L349.73,140.40 L350.49,140.67 L351.24,140.97 L352.00,141.37 L352.76,141.89 L353.51,142.49 L354.27,143.17 L355.03,143.88 L355.78,144.62 L356.54,145.36 L357.30,146.06 L358.05,146.74 L358.81,147.38 L359.57,148.00 L360.32,148.59 L361.08,149.17 L361.84,149.74 L362.59,150.30 L363.35,150.86 L364.11,151.39 L364.86,151.90 L365.62,152.42 L366.38,152.96 L367.13,153.51 L367.89,154.07 L368.64,154.65 L369.40,155.25 L370.16,155.87 L370.91,156.51 L371.67,157.17 L372.43,157.84 L373.18,158.52 L373.94,159.22 L374.70,159.92 L375.45,160.63 L376.21,161.35 L376.97,162.07 L377.72,162.79 L378.48,163.51 L379.24,164.23 L379.99,164.94 L380.75,165.63 L381.51,166.31 L382.26,166.97 L383.02,167.61 L383.77,168.22 L384.53,168.81 L385.29,169.37 L386.04,169.91 L386.80,170.44 L387.56,170.96 L388.31,171.47 L389.07,171.97 L389.83,172.48 L390.58,172.98 L391.34,173.48 L392.10,173.97 L392.85,174.45 L393.61,174.92 L394.37,175.38 L395.12,175.83 L395.88,176.26 L396.64,176.67 L397.39,177.07 L398.15,177.45 L398.91,177.84 L399.66,178.21 L400.42,178.59 L401.17,178.97 L401.93,179.35 L402.69,179.73 L403.44,180.12 L404.20,180.50 L404.96,180.87 L405.71,181.25 L406.47,181.62 L407.23,181.98 L407.98,182.34 L408.74,182.70 L409.50,183.05 L410.25,183.39 L411.01,183.73 L411.77,184.07 L412.52,184.40 L413.28,184.73 L414.04,185.06 L414.79,185.39 L415.55,185.72 L416.31,186.04 L417.06,186.35 L417.82,186.67 L418.57,186.99 L419.33,187.30 L420.09,187.63 L420.84,187.95 L421.60,188.28 L422.36,188.61 L423.11,188.95 L423.87,189.28 L424.63,189.62 L425.38,189.96 L426.14,190.29 L426.90,190.63 L427.65,190.96 L428.41,191.29 L429.17,191.61 L429.92,191.94 L430.68,192.26 L431.44,192.59 L432.19,192.91 L432.95,193.24 L433.70,193.56 L434.46,193.88 L435.22,194.20 L435.97,194.53 L436.73,194.85 L437.49,195.18 L438.24,195.50 L439.00,195.83 L439.76,196.16 L440.51,196.49 L441.27,196.82 L442.03,197.15 L442.78,197.49 L443.54,197.82 L444.30,198.15 L445.05,198.49 L445.81,198.83 L446.57,199.16 L447.32,199.50 L448.08,199.84 L448.84,200.18 L449.59,200.53 L450.35,200.87 L451.10,201.22 L451.86,201.57 L452.62,201.92 L453.37,202.27 L454.13,202.62 L454.89,202.98 L455.64,203.34 L456.40,203.70 L457.16,204.06 L457.91,204.43 L458.67,204.79 L459.43,205.16 L460.18,205.54 L460.94,205.91 L461.70,206.29 L462.45,206.67 L463.21,207.06 L463.97,207.45 L464.72,207.84 L465.48,208.23 L466.23,208.63 L466.99,209.03 L467.75,209.43 L468.50,209.84 L469.26,210.25 L470.02,210.67 L470.77,211.09 L471.53,211.51 L472.29,211.94 L473.04,212.37 L473.80,212.81" fill="none" stroke="#F19700" stroke-width="1.8" stroke-linejoin="round"/>
<path d="M96.30,68.15 L97.13,68.41 L97.96,68.67 L98.78,68.94 L99.61,69.20 L100.44,69.47 L101.27,69.74 L102.09,70.01 L102.92,70.29 L103.75,70.56 L104.58,70.84 L105.40,71.12 L106.23,71.41 L107.06,71.69 L107.89,71.98 L108.71,72.27 L109.54,72.56 L110.37,72.85 L111.20,73.15 L112.02,73.45 L112.85,73.75 L113.68,74.05 L114.51,74.35 L115.33,74.66 L116.16,74.97 L116.99,75.28 L117.82,75.59 L118.64,75.90 L119.47,76.22 L120.30,76.54 L121.13,76.86 L121.95,77.18 L122.78,77.50 L123.61,77.83 L124.44,78.16 L125.26,78.48 L126.09,78.82 L126.92,79.15 L127.75,79.48 L128.58,79.82 L129.40,80.16 L130.23,80.50 L131.06,80.84 L131.89,81.19 L132.71,81.53 L133.54,81.88 L134.37,82.23 L135.20,82.58 L136.02,82.94 L136.85,83.29 L137.68,83.65 L138.51,84.01 L139.33,84.37 L140.16,84.73 L140.99,85.09 L141.82,85.46 L142.64,85.83 L143.47,86.20 L144.30,86.57 L145.13,86.94 L145.95,87.31 L146.78,87.69 L147.61,88.06 L148.44,88.44 L149.26,88.82 L150.09,89.20 L150.92,89.59 L151.75,89.97 L152.57,90.36 L153.40,90.75 L154.23,91.14 L155.06,91.53 L155.88,91.92 L156.71,92.32 L157.54,92.71 L158.37,93.11 L159.20,93.51 L160.02,93.91 L160.85,94.31 L161.68,94.71 L162.51,95.12 L163.33,95.52 L164.16,95.93 L164.99,96.34 L165.82,96.75 L166.64,97.16 L167.47,97.57 L168.30,97.99 L169.13,98.40 L169.95,98.82 L170.78,99.24 L171.61,99.66 L172.44,100.08 L173.26,100.50 L174.09,100.92 L174.92,101.35 L175.75,101.77 L176.57,102.20 L177.40,102.63 L178.23,103.06 L179.06,103.49 L179.88,103.92 L180.71,104.36 L181.54,104.79 L182.37,105.23 L183.19,105.66 L184.02,106.10 L184.85,106.54 L185.68,106.98 L186.51,107.42 L187.33,107.87 L188.16,108.31 L188.99,108.76 L189.82,109.20 L190.64,109.65 L191.47,110.10 L192.30,110.55 L193.13,111.00 L193.95,111.45 L194.78,111.90 L195.61,112.35 L196.44,112.81 L197.26,113.26 L198.09,113.72 L198.92,114.18 L199.75,114.64 L200.57,115.09 L201.40,115.55 L202.23,116.02 L203.06,116.48 L203.88,116.94 L204.71,117.40 L205.54,117.87 L206.37,118.34 L207.19,118.80 L208.02,119.27 L208.85,119.74 L209.68,120.21 L210.50,120.68 L211.33,121.15 L212.16,121.62 L212.99,122.09 L213.81,122.56 L214.64,123.04 L215.47,123.51 L216.30,123.99 L217.13,124.46 L217.95,124.94 L218.78,125.42 L219.61,125.90 L220.44,126.38 L221.26,126.86 L222.09,127.34 L222.92,127.82 L223.75,128.30 L224.57,128.78 L225.40,129.27 L226.23,129.75 L227.06,130.23 L227.88,130.72 L228.71,131.20 L229.54,131.69 L230.37,132.18 L231.19,132.66 L232.02,133.15 L232.85,133.64 L233.68,134.13 L234.50,134.62 L235.33,135.11 L236.16,135.60 L236.99,136.09 L237.81,136.58 L238.64,137.07 L239.47,137.57 L240.30,138.06 L241.12,138.55 L241.95,139.05 L242.78,139.54 L243.61,140.04 L244.43,140.53 L245.26,141.03 L246.09,141.52 L246.92,142.02 L247.75,142.52 L248.57,143.01 L249.40,143.51 L250.23,144.01 L251.06,144.51 L251.88,145.00 L252.71,145.50 L253.54,146.00 L254.37,146.50 L255.19,147.00 L256.02,147.50 L256.85,148.00 L257.68,148.50 L258.50,149.00 L259.33,149.50 L260.16,150.00 L260.99,150.50 L261.81,151.00 L262.64,151.50 L263.47,152.01 L264.30,152.51 L265.12,153.01 L265.95,153.51 L266.78,154.01 L267.61,154.51 L268.43,155.02 L269.26,155.52 L270.09,156.02 L270.92,156.52 L271.74,157.03 L272.57,157.53 L273.40,158.03 L274.23,158.53 L275.05,159.04 L275.88,159.54 L276.71,160.04 L277.54,160.55 L278.37,161.05 L279.19,161.55 L280.02,162.06 L280.85,162.56 L281.68,163.06 L282.50,163.57 L283.33,164.07 L284.16,164.58 L284.99,165.08 L285.81,165.58 L286.64,166.09 L287.47,166.60 L288.30,167.10 L289.12,167.61 L289.95,168.11 L290.78,168.62 L291.61,169.12 L292.43,169.63 L293.26,170.14 L294.09,170.65 L294.92,171.15 L295.74,171.66 L296.57,172.17 L297.40,172.68 L298.23,173.19 L299.05,173.70 L299.88,174.21 L300.71,174.72 L301.54,175.23 L302.36,175.74 L303.19,176.25 L304.02,176.76 L304.85,177.27 L305.67,177.79 L306.50,178.30 L307.33,178.81 L308.16,179.33 L308.99,179.84 L309.81,180.36 L310.64,180.87 L311.47,181.39 L312.30,181.91 L313.12,182.42 L313.95,182.94 L314.78,183.46 L315.61,183.98 L316.43,184.50 L317.26,185.02 L318.09,185.54 L318.92,186.06 L319.74,186.58 L320.57,187.11 L321.40,187.63 L322.23,188.15 L323.05,188.68 L323.88,189.20 L324.71,189.73 L325.54,190.26 L326.36,190.78 L327.19,191.31 L328.02,191.84 L328.85,192.37 L329.67,192.90 L330.50,193.43 L331.33,193.97 L332.16,194.50 L332.98,195.03 L333.81,195.57 L334.64,196.10 L335.47,196.64 L336.29,197.17 L337.12,197.71 L337.95,198.25 L338.78,198.79 L339.61,199.33 L340.43,199.87 L341.26,200.41 L342.09,200.96 L342.92,201.50 L343.74,202.05 L344.57,202.59 L345.40,203.14 L346.23,203.69 L347.05,204.24 L347.88,204.79 L348.71,205.34 L349.54,205.89 L350.36,206.44 L351.19,206.99 L352.02,207.55 L352.85,208.11 L353.67,208.66 L354.50,209.22 L355.33,209.78 L356.16,210.34 L356.98,210.90 L357.81,211.46 L358.64,212.03 L359.47,212.59 L360.29,213.16 L361.12,213.72 L361.95,214.29 L362.78,214.86 L363.60,215.43 L364.43,216.00 L365.26,216.58 L366.09,217.15 L366.92,217.72 L367.74,218.30 L368.57,218.88 L369.40,219.46 L370.23,220.04 L371.05,220.62 L371.88,221.20 L372.71,221.79 L373.54,222.37 L374.36,222.96 L375.19,223.55 L376.02,224.14 L376.85,224.73 L377.67,225.32 L378.50,225.91 L379.33,226.51 L380.16,227.10 L380.98,227.70 L381.81,228.30 L382.64,228.90 L383.47,229.50 L384.29,230.10 L385.12,230.71 L385.95,231.32 L386.78,231.92 L387.60,232.53 L388.43,233.14 L389.26,233.76 L390.09,234.37 L390.91,234.98 L391.74,235.60 L392.57,236.22 L393.40,236.84 L394.22,237.46 L395.05,238.08 L395.88,238.71 L396.71,239.33 L397.54,239.96 L398.36,240.59 L399.19,241.22 L400.02,241.85 L400.85,242.49 L401.67,243.12 L402.50,243.76 L403.33,244.40 L404.16,245.04 L404.98,245.68 L405.81,246.33 L406.64,246.97 L407.47,247.62 L408.29,248.27 L409.12,248.92 L409.95,249.57 L410.78,250.23 L411.60,250.89 L412.43,251.54 L413.26,252.20 L414.09,252.87 L414.91,253.53 L415.74,254.20 L416.57,254.86 L417.40,255.53 L418.22,256.20 L419.05,256.88 L419.88,257.55 L420.71,258.23 L421.53,258.91 L422.36,259.59 L423.19,260.27 L424.02,260.95 L424.84,261.64 L425.67,262.33 L426.50,263.02" fill="none" stroke="#E65C0E" stroke-width="1.8" stroke-dasharray="4.1 3.75"/>
<path d="M96.30,67.05 L97.21,67.22 L98.11,67.39 L99.02,67.56 L99.93,67.74 L100.83,67.92 L101.74,68.10 L102.65,68.29 L103.55,68.47 L104.46,68.66 L105.37,68.86 L106.27,69.05 L107.18,69.25 L108.08,69.46 L108.99,69.66 L109.90,69.87 L110.80,70.08 L111.71,70.29 L112.62,70.51 L113.52,70.73 L114.43,70.95 L115.34,71.17 L116.24,71.40 L117.15,71.63 L118.06,71.86 L118.96,72.09 L119.87,72.33 L120.78,72.57 L121.68,72.82 L122.59,73.06 L123.50,73.31 L124.40,73.56 L125.31,73.81 L126.22,74.07 L127.12,74.33 L128.03,74.59 L128.93,74.86 L129.84,75.12 L130.75,75.39 L131.65,75.66 L132.56,75.94 L133.47,76.21 L134.37,76.49 L135.28,76.78 L136.19,77.06 L137.09,77.35 L138.00,77.64 L138.91,77.93 L139.81,78.23 L140.72,78.52 L141.63,78.82 L142.53,79.12 L143.44,79.43 L144.35,79.74 L145.25,80.05 L146.16,80.36 L147.06,80.67 L147.97,80.99 L148.88,81.31 L149.78,81.63 L150.69,81.95 L151.60,82.28 L152.50,82.61 L153.41,82.94 L154.32,83.27 L155.22,83.61 L156.13,83.95 L157.04,84.29 L157.94,84.63 L158.85,84.98 L159.76,85.32 L160.66,85.67 L161.57,86.02 L162.48,86.38 L163.38,86.73 L164.29,87.09 L165.20,87.45 L166.10,87.82 L167.01,88.18 L167.91,88.55 L168.82,88.92 L169.73,89.29 L170.63,89.67 L171.54,90.04 L172.45,90.42 L173.35,90.80 L174.26,91.19 L175.17,91.57 L176.07,91.96 L176.98,92.35 L177.89,92.74 L178.79,93.13 L179.70,93.53 L180.61,93.93 L181.51,94.33 L182.42,94.73 L183.33,95.13 L184.23,95.54 L185.14,95.95 L186.05,96.36 L186.95,96.77 L187.86,97.18 L188.76,97.60 L189.67,98.02 L190.58,98.44 L191.48,98.86 L192.39,99.28 L193.30,99.71 L194.20,100.14 L195.11,100.57 L196.02,101.00 L196.92,101.43 L197.83,101.87 L198.74,102.31 L199.64,102.75 L200.55,103.19 L201.46,103.63 L202.36,104.08 L203.27,104.53 L204.18,104.97 L205.08,105.43 L205.99,105.88 L206.89,106.33 L207.80,106.79 L208.71,107.25 L209.61,107.71 L210.52,108.17 L211.43,108.63 L212.33,109.10 L213.24,109.56 L214.15,110.03 L215.05,110.50 L215.96,110.98 L216.87,111.45 L217.77,111.93 L218.68,112.40 L219.59,112.88 L220.49,113.36 L221.40,113.84 L222.31,114.33 L223.21,114.81 L224.12,115.30 L225.03,115.79 L225.93,116.27 L226.84,116.77 L227.74,117.26 L228.65,117.75 L229.56,118.25 L230.46,118.74 L231.37,119.24 L232.28,119.74 L233.18,120.24 L234.09,120.74 L235.00,121.25 L235.90,121.75 L236.81,122.26 L237.72,122.76 L238.62,123.27 L239.53,123.78 L240.44,124.29 L241.34,124.80 L242.25,125.32 L243.16,125.83 L244.06,126.35 L244.97,126.86 L245.88,127.38 L246.78,127.90 L247.69,128.42 L248.59,128.94 L249.50,129.46 L250.41,129.99 L251.31,130.51 L252.22,131.03 L253.13,131.56 L254.03,132.09 L254.94,132.61 L255.85,133.14 L256.75,133.67 L257.66,134.20 L258.57,134.73 L259.47,135.27 L260.38,135.80 L261.29,136.33 L262.19,136.87 L263.10,137.40 L264.01,137.94 L264.91,138.47 L265.82,139.01 L266.73,139.55 L267.63,140.09 L268.54,140.63 L269.44,141.17 L270.35,141.71 L271.26,142.25 L272.16,142.79 L273.07,143.33 L273.98,143.88 L274.88,144.42 L275.79,144.96 L276.70,145.51 L277.60,146.05 L278.51,146.60 L279.42,147.14 L280.32,147.69 L281.23,148.24 L282.14,148.78 L283.04,149.33 L283.95,149.88 L284.86,150.43 L285.76,150.97 L286.67,151.52 L287.57,152.07 L288.48,152.62 L289.39,153.17 L290.29,153.72 L291.20,154.27 L292.11,154.82 L293.01,155.37 L293.92,155.92 L294.83,156.47 L295.73,157.02 L296.64,157.57 L297.55,158.13 L298.45,158.68 L299.36,159.23 L300.27,159.78 L301.17,160.33 L302.08,160.88 L302.99,161.43 L303.89,161.99 L304.80,162.54 L305.71,163.09 L306.61,163.64 L307.52,164.19 L308.42,164.75 L309.33,165.30 L310.24,165.85 L311.14,166.41 L312.05,166.96 L312.96,167.51 L313.86,168.07 L314.77,168.62 L315.68,169.18 L316.58,169.73 L317.49,170.29 L318.40,170.84 L319.30,171.40 L320.21,171.95 L321.12,172.51 L322.02,173.07 L322.93,173.62 L323.84,174.18 L324.74,174.74 L325.65,175.30 L326.56,175.85 L327.46,176.41 L328.37,176.97 L329.27,177.53 L330.18,178.09 L331.09,178.65 L331.99,179.21 L332.90,179.77 L333.81,180.33 L334.71,180.89 L335.62,181.45 L336.53,182.02 L337.43,182.58 L338.34,183.14 L339.25,183.71 L340.15,184.27 L341.06,184.83 L341.97,185.40 L342.87,185.97 L343.78,186.53 L344.69,187.10 L345.59,187.66 L346.50,188.23 L347.41,188.80 L348.31,189.37 L349.22,189.94 L350.12,190.51 L351.03,191.08 L351.94,191.65 L352.84,192.22 L353.75,192.79 L354.66,193.36 L355.56,193.94 L356.47,194.51 L357.38,195.09 L358.28,195.66 L359.19,196.24 L360.10,196.81 L361.00,197.39 L361.91,197.97 L362.82,198.54 L363.72,199.12 L364.63,199.70 L365.54,200.28 L366.44,200.86 L367.35,201.44 L368.25,202.03 L369.16,202.61 L370.07,203.19 L370.97,203.78 L371.88,204.36 L372.79,204.95 L373.69,205.54 L374.60,206.12 L375.51,206.71 L376.41,207.30 L377.32,207.89 L378.23,208.48 L379.13,209.07 L380.04,209.66 L380.95,210.26 L381.85,210.85 L382.76,211.44 L383.67,212.04 L384.57,212.63 L385.48,213.23 L386.39,213.83 L387.29,214.43 L388.20,215.03 L389.10,215.63 L390.01,216.23 L390.92,216.83 L391.82,217.43 L392.73,218.04 L393.64,218.64 L394.54,219.25 L395.45,219.86 L396.36,220.46 L397.26,221.07 L398.17,221.68 L399.08,222.29 L399.98,222.90 L400.89,223.52 L401.80,224.13 L402.70,224.74 L403.61,225.36 L404.52,225.98 L405.42,226.59 L406.33,227.21 L407.24,227.83 L408.14,228.45 L409.05,229.07 L409.95,229.70 L410.86,230.32 L411.77,230.95 L412.67,231.57 L413.58,232.20 L414.49,232.83 L415.39,233.46 L416.30,234.09 L417.21,234.72 L418.11,235.35 L419.02,235.98 L419.93,236.62 L420.83,237.25 L421.74,237.89 L422.65,238.53 L423.55,239.17 L424.46,239.81 L425.37,240.45 L426.27,241.10 L427.18,241.74 L428.08,242.39 L428.99,243.03 L429.90,243.68 L430.80,244.33 L431.71,244.98 L432.62,245.63 L433.52,246.28 L434.43,246.94 L435.34,247.59 L436.24,248.25 L437.15,248.91 L438.06,249.57 L438.96,250.23 L439.87,250.89 L440.78,251.55 L441.68,252.22 L442.59,252.88 L443.50,253.55 L444.40,254.22 L445.31,254.89 L446.22,255.56 L447.12,256.23 L448.03,256.91 L448.93,257.58 L449.84,258.26 L450.75,258.94 L451.65,259.62 L452.56,260.30 L453.47,260.98 L454.37,261.67 L455.28,262.35 L456.19,263.04 L457.09,263.73 L458.00,264.42" fill="none" stroke="#5D6DC1" stroke-width="1.8" stroke-dasharray="4.1 3.75"/>
<path d="M96.30,68.30 L97.21,68.45 L98.12,68.61 L99.03,68.76 L99.94,68.92 L100.85,69.08 L101.76,69.24 L102.67,69.40 L103.58,69.56 L104.49,69.72 L105.40,69.89 L106.31,70.06 L107.22,70.23 L108.13,70.40 L109.04,70.58 L109.95,70.75 L110.86,70.93 L111.77,71.11 L112.68,71.29 L113.60,71.47 L114.51,71.66 L115.42,71.85 L116.33,72.03 L117.24,72.23 L118.15,72.42 L119.06,72.61 L119.97,72.81 L120.88,73.01 L121.79,73.21 L122.70,73.41 L123.61,73.61 L124.52,73.82 L125.43,74.03 L126.34,74.24 L127.25,74.45 L128.16,74.66 L129.07,74.88 L129.98,75.09 L130.89,75.31 L131.80,75.53 L132.71,75.76 L133.62,75.98 L134.53,76.21 L135.44,76.44 L136.35,76.67 L137.26,76.90 L138.17,77.14 L139.08,77.38 L139.99,77.61 L140.90,77.86 L141.81,78.10 L142.72,78.34 L143.63,78.59 L144.54,78.84 L145.45,79.09 L146.37,79.34 L147.28,79.60 L148.19,79.86 L149.10,80.12 L150.01,80.38 L150.92,80.64 L151.83,80.91 L152.74,81.17 L153.65,81.44 L154.56,81.72 L155.47,81.99 L156.38,82.27 L157.29,82.54 L158.20,82.82 L159.11,83.11 L160.02,83.39 L160.93,83.68 L161.84,83.97 L162.75,84.26 L163.66,84.55 L164.57,84.85 L165.48,85.14 L166.39,85.44 L167.30,85.74 L168.21,86.05 L169.12,86.35 L170.03,86.66 L170.94,86.97 L171.85,87.29 L172.76,87.60 L173.67,87.92 L174.58,88.24 L175.49,88.56 L176.40,88.88 L177.31,89.21 L178.22,89.54 L179.14,89.87 L180.05,90.20 L180.96,90.53 L181.87,90.87 L182.78,91.21 L183.69,91.55 L184.60,91.89 L185.51,92.24 L186.42,92.59 L187.33,92.94 L188.24,93.29 L189.15,93.65 L190.06,94.01 L190.97,94.36 L191.88,94.73 L192.79,95.09 L193.70,95.46 L194.61,95.83 L195.52,96.20 L196.43,96.57 L197.34,96.95 L198.25,97.33 L199.16,97.71 L200.07,98.09 L200.98,98.48 L201.89,98.86 L202.80,99.25 L203.71,99.65 L204.62,100.04 L205.53,100.44 L206.44,100.84 L207.35,101.24 L208.26,101.64 L209.17,102.05 L210.08,102.46 L210.99,102.87 L211.91,103.28 L212.82,103.70 L213.73,104.12 L214.64,104.54 L215.55,104.96 L216.46,105.38 L217.37,105.81 L218.28,106.24 L219.19,106.67 L220.10,107.10 L221.01,107.54 L221.92,107.97 L222.83,108.41 L223.74,108.85 L224.65,109.30 L225.56,109.74 L226.47,110.19 L227.38,110.64 L228.29,111.09 L229.20,111.54 L230.11,112.00 L231.02,112.45 L231.93,112.91 L232.84,113.37 L233.75,113.83 L234.66,114.30 L235.57,114.76 L236.48,115.23 L237.39,115.70 L238.30,116.17 L239.21,116.64 L240.12,117.12 L241.03,117.59 L241.94,118.07 L242.85,118.55 L243.76,119.03 L244.67,119.52 L245.59,120.00 L246.50,120.49 L247.41,120.97 L248.32,121.46 L249.23,121.95 L250.14,122.45 L251.05,122.94 L251.96,123.44 L252.87,123.93 L253.78,124.43 L254.69,124.93 L255.60,125.43 L256.51,125.94 L257.42,126.44 L258.33,126.95 L259.24,127.45 L260.15,127.96 L261.06,128.47 L261.97,128.98 L262.88,129.50 L263.79,130.01 L264.70,130.52 L265.61,131.04 L266.52,131.56 L267.43,132.08 L268.34,132.60 L269.25,133.12 L270.16,133.64 L271.07,134.16 L271.98,134.69 L272.89,135.21 L273.80,135.74 L274.71,136.27 L275.62,136.80 L276.53,137.33 L277.44,137.86 L278.36,138.39 L279.27,138.93 L280.18,139.46 L281.09,140.00 L282.00,140.53 L282.91,141.07 L283.82,141.61 L284.73,142.15 L285.64,142.69 L286.55,143.23 L287.46,143.77 L288.37,144.31 L289.28,144.86 L290.19,145.40 L291.10,145.95 L292.01,146.49 L292.92,147.04 L293.83,147.59 L294.74,148.14 L295.65,148.68 L296.56,149.23 L297.47,149.78 L298.38,150.34 L299.29,150.89 L300.20,151.44 L301.11,151.99 L302.02,152.55 L302.93,153.10 L303.84,153.66 L304.75,154.21 L305.66,154.77 L306.57,155.33 L307.48,155.89 L308.39,156.44 L309.30,157.00 L310.21,157.56 L311.13,158.12 L312.04,158.69 L312.95,159.25 L313.86,159.81 L314.77,160.37 L315.68,160.93 L316.59,161.50 L317.50,162.06 L318.41,162.63 L319.32,163.19 L320.23,163.76 L321.14,164.33 L322.05,164.89 L322.96,165.46 L323.87,166.03 L324.78,166.60 L325.69,167.17 L326.60,167.74 L327.51,168.31 L328.42,168.88 L329.33,169.45 L330.24,170.02 L331.15,170.59 L332.06,171.16 L332.97,171.73 L333.88,172.31 L334.79,172.88 L335.70,173.45 L336.61,174.03 L337.52,174.60 L338.43,175.18 L339.34,175.75 L340.25,176.33 L341.16,176.90 L342.07,177.48 L342.98,178.06 L343.89,178.63 L344.81,179.21 L345.72,179.79 L346.63,180.36 L347.54,180.94 L348.45,181.52 L349.36,182.10 L350.27,182.68 L351.18,183.26 L352.09,183.83 L353.00,184.41 L353.91,184.99 L354.82,185.57 L355.73,186.15 L356.64,186.73 L357.55,187.31 L358.46,187.89 L359.37,188.47 L360.28,189.06 L361.19,189.64 L362.10,190.22 L363.01,190.80 L363.92,191.38 L364.83,191.96 L365.74,192.54 L366.65,193.12 L367.56,193.71 L368.47,194.29 L369.38,194.87 L370.29,195.45 L371.20,196.03 L372.11,196.62 L373.02,197.20 L373.93,197.78 L374.84,198.36 L375.75,198.95 L376.66,199.53 L377.58,200.11 L378.49,200.69 L379.40,201.27 L380.31,201.86 L381.22,202.44 L382.13,203.02 L383.04,203.60 L383.95,204.19 L384.86,204.77 L385.77,205.35 L386.68,205.93 L387.59,206.52 L388.50,207.10 L389.41,207.68 L390.32,208.26 L391.23,208.85 L392.14,209.43 L393.05,210.01 L393.96,210.60 L394.87,211.18 L395.78,211.77 L396.69,212.35 L397.60,212.93 L398.51,213.52 L399.42,214.10 L400.33,214.69 L401.24,215.28 L402.15,215.86 L403.06,216.45 L403.97,217.04 L404.88,217.62 L405.79,218.21 L406.70,218.80 L407.61,219.39 L408.52,219.98 L409.43,220.57 L410.35,221.16 L411.26,221.75 L412.17,222.34 L413.08,222.93 L413.99,223.52 L414.90,224.11 L415.81,224.71 L416.72,225.30 L417.63,225.89 L418.54,226.49 L419.45,227.09 L420.36,227.68 L421.27,228.28 L422.18,228.88 L423.09,229.47 L424.00,230.07 L424.91,230.67 L425.82,231.27 L426.73,231.88 L427.64,232.48 L428.55,233.08 L429.46,233.68 L430.37,234.29 L431.28,234.89 L432.19,235.50 L433.10,236.11 L434.01,236.72 L434.92,237.32 L435.83,237.93 L436.74,238.54 L437.65,239.16 L438.56,239.77 L439.47,240.38 L440.38,241.00 L441.29,241.61 L442.20,242.23 L443.12,242.85 L444.03,243.47 L444.94,244.09 L445.85,244.71 L446.76,245.33 L447.67,245.95 L448.58,246.58 L449.49,247.20 L450.40,247.83 L451.31,248.46 L452.22,249.09 L453.13,249.72 L454.04,250.35 L454.95,250.98 L455.86,251.61 L456.77,252.25 L457.68,252.89 L458.59,253.52 L459.50,254.16" fill="none" stroke="#F19700" stroke-width="1.8" stroke-dasharray="4.1 3.75"/>
</g>
<rect x="69.7" y="3.8" width="416.3" height="256.84999999999997" fill="none" stroke="#363636" stroke-width="1.6"/>
<text transform="translate(97.0,276.6) scale(0.98,1)" font-size="17.6" text-anchor="middle">10</text><text transform="translate(210.5,276.6) scale(0.98,1)" font-size="17.6" text-anchor="middle">100</text><text transform="translate(325.0,276.6) scale(0.98,1)" font-size="17.6" text-anchor="middle">1000</text><text transform="translate(427.5,279.9) scale(0.98,1)" font-size="17.6" text-anchor="start">10</text><text transform="translate(444.6,273.3) scale(0.98,1)" font-size="12.5" text-anchor="start">4</text><text transform="translate(34.8,19.0) scale(0.98,1)" font-size="17.6" text-anchor="start">10</text><text transform="translate(52.4,13.8) scale(0.98,1)" font-size="12.5" text-anchor="start">−</text><text transform="translate(59.699999999999996,12.8) scale(0.98,1)" font-size="12.5" text-anchor="start">4</text><text transform="translate(34.8,66.4) scale(0.98,1)" font-size="17.6" text-anchor="start">10</text><text transform="translate(52.4,61.2) scale(0.98,1)" font-size="12.5" text-anchor="start">−</text><text transform="translate(59.699999999999996,60.2) scale(0.98,1)" font-size="12.5" text-anchor="start">9</text><text transform="translate(28.0,113.5) scale(0.98,1)" font-size="17.6" text-anchor="start">10</text><text transform="translate(45.6,108.3) scale(0.98,1)" font-size="12.5" text-anchor="start">−</text><text transform="translate(52.9,107.3) scale(0.98,1)" font-size="12.5" text-anchor="start">14</text><text transform="translate(28.0,161.5) scale(0.98,1)" font-size="17.6" text-anchor="start">10</text><text transform="translate(45.6,156.3) scale(0.98,1)" font-size="12.5" text-anchor="start">−</text><text transform="translate(52.9,155.3) scale(0.98,1)" font-size="12.5" text-anchor="start">19</text><text transform="translate(28.0,209.5) scale(0.98,1)" font-size="17.6" text-anchor="start">10</text><text transform="translate(45.6,204.3) scale(0.98,1)" font-size="12.5" text-anchor="start">−</text><text transform="translate(52.9,203.3) scale(0.98,1)" font-size="12.5" text-anchor="start">24</text><text transform="translate(28.0,256.9) scale(0.98,1)" font-size="17.6" text-anchor="start">10</text><text transform="translate(45.6,251.7) scale(0.98,1)" font-size="12.5" text-anchor="start">−</text><text transform="translate(52.9,250.7) scale(0.98,1)" font-size="12.5" text-anchor="start">29</text><use href="#ell" transform="translate(274.2,303.0)"/>
<g transform="rotate(-90)"><text transform="translate(-246.30,17.00) scale(0.98,1)" font-size="17.6" text-anchor="start" font-style="italic">C</text><use href="#ell" transform="translate(-234.40,19.20) scale(0.7)"/><text transform="translate(-228.20,9.80) scale(0.98,1)" font-size="13.1" text-anchor="start">TT</text><text transform="translate(-212.30,17.00) scale(0.98,1)" font-size="17.6" text-anchor="start" font-style="italic">C</text><use href="#ell" transform="translate(-200.60,19.20) scale(0.7)"/><text transform="translate(-194.00,9.80) scale(0.98,1)" font-size="13.1" text-anchor="start">δδ</text><text transform="translate(-167.40,17.00) scale(0.98,1)" font-size="17.6" text-anchor="start">vs</text><text transform="translate(-138.40,17.00) scale(0.98,1)" font-size="17.6" text-anchor="start" font-style="italic">C</text><use href="#ell" transform="translate(-126.30,19.20) scale(0.7)"/><text transform="translate(-120.00,9.80) scale(0.98,1)" font-size="13.1" text-anchor="start">Tδ</text><text transform="translate(-106.00,17.00) scale(0.98,1)" font-size="17.6" text-anchor="start" font-style="italic">C</text><use href="#ell" transform="translate(-94.00,19.20) scale(0.7)"/><text transform="translate(-88.20,9.80) scale(0.98,1)" font-size="13.1" text-anchor="start">Tδ</text><text transform="translate(-59.70,17.00) scale(0.98,1)" font-size="17.6" text-anchor="start">[</text><text transform="translate(-53.80,17.00) scale(0.98,1)" font-size="17.6" text-anchor="start" font-style="italic">μ</text><text transform="translate(-43.50,17.00) scale(0.98,1)" font-size="17.6" text-anchor="start">K</text><text transform="translate(-32.40,10.00) scale(0.98,1)" font-size="14.2" text-anchor="start">2</text><text transform="translate(-24.70,17.00) scale(0.98,1)" font-size="17.6" text-anchor="start">]</text></g>
<line x1="108.1" y1="158.55" x2="125.4" y2="158.55" stroke="#E65C0E" stroke-width="1.7"/><line x1="108.1" y1="197.8" x2="125.4" y2="197.8" stroke="#5D6DC1" stroke-width="1.7"/><line x1="108.1" y1="237.0" x2="125.4" y2="237.0" stroke="#F19700" stroke-width="1.7"/><text transform="translate(138.4,162.5) scale(1.0,1)" font-size="15.6" text-anchor="start">0</text><text transform="translate(147.8,162.5) scale(1.0,1)" font-size="15.6" text-anchor="start">.</text><text transform="translate(155.6,162.5) scale(1.0,1)" font-size="15.6" text-anchor="start">≤</text><text transform="translate(172.6,162.5) scale(1.0,1)" font-size="15.6" text-anchor="start">z</text><text transform="translate(183.9,162.5) scale(1.0,1)" font-size="15.6" text-anchor="start">≤</text><text transform="translate(196.3,162.5) scale(1.0,1)" font-size="15.6" text-anchor="start">0.35</text><text transform="translate(138.4,201.8) scale(1.0,1)" font-size="15.6" text-anchor="start">0.35</text><text transform="translate(171.0,201.8) scale(1.0,1)" font-size="15.6" text-anchor="start">≤</text><text transform="translate(188.2,201.8) scale(1.0,1)" font-size="15.6" text-anchor="start">z</text><text transform="translate(199.4,201.8) scale(1.0,1)" font-size="15.6" text-anchor="start">≤</text><text transform="translate(239.6,201.8) scale(1.0,1)" font-size="15.6" text-anchor="end">0.78</text><text transform="translate(138.4,241.1) scale(1.0,1)" font-size="15.6" text-anchor="start">0.78</text><text transform="translate(171.0,241.1) scale(1.0,1)" font-size="15.6" text-anchor="start">≤</text><text transform="translate(188.2,241.1) scale(1.0,1)" font-size="15.6" text-anchor="start">z</text><text transform="translate(199.4,241.1) scale(1.0,1)" font-size="15.6" text-anchor="start">≤</text><text transform="translate(239.6,241.1) scale(1.0,1)" font-size="15.6" text-anchor="end">1.37</text>
</svg>
</body></html>
